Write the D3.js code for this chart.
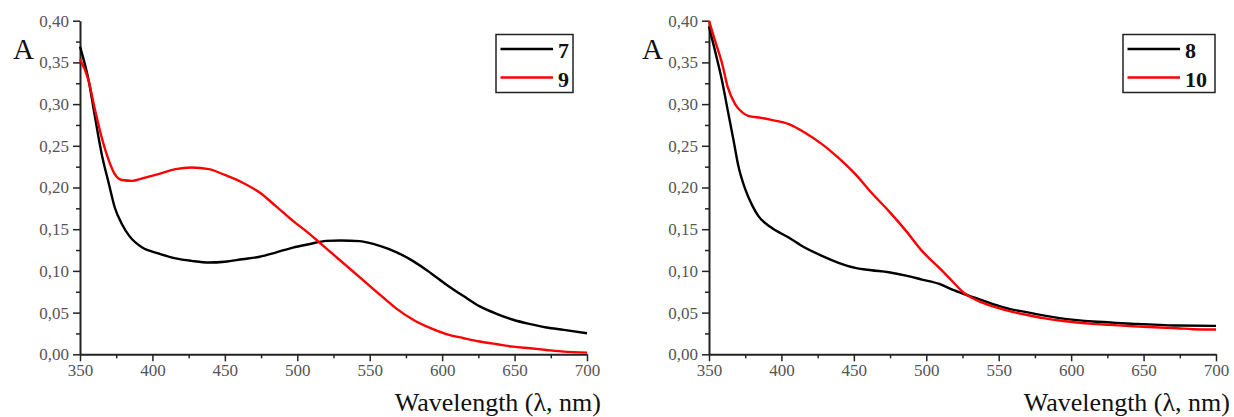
<!DOCTYPE html>
<html>
<head>
<meta charset="utf-8">
<script src="https://cdn.jsdelivr.net/npm/d3@7"></script>
<style>
  html, body { margin: 0; padding: 0; background: #fff; }
  svg { display: block; }
</style>
</head>
<body>
<svg id="chart" width="1234" height="417"></svg>
<script>
// ---- data ----
const X_TICKS = [350, 400, 450, 500, 550, 600, 650, 700];
const Y_TICKS = [0, 0.05, 0.10, 0.15, 0.20, 0.25, 0.30, 0.35, 0.40];

const LAMBDA_7 = [350, 356, 360, 365, 370, 374, 379, 384, 393, 404, 416, 427, 439, 450, 462, 474, 485, 497, 508, 520, 530, 543, 557, 569, 580, 592, 603, 615, 626, 638, 649, 661, 672, 684, 700];
const ABS_7    = [0.369, 0.328, 0.288, 0.240, 0.204, 0.176, 0.156, 0.142, 0.128, 0.121, 0.115, 0.112, 0.110, 0.111, 0.114, 0.117, 0.122, 0.128, 0.132, 0.136, 0.1365, 0.1357, 0.130, 0.122, 0.1117, 0.0976, 0.0835, 0.0695, 0.0574, 0.0482, 0.0414, 0.0361, 0.0321, 0.0293, 0.0253];

const LAMBDA_9 = [350, 356, 360, 365, 370, 374, 379, 386, 393, 404, 416, 427, 439, 450, 462, 474, 485, 497, 508, 516, 526, 534, 545, 557, 568, 580, 592, 603, 615, 626, 638, 649, 661, 672, 684, 700];
const ABS_9    = [0.354, 0.328, 0.296, 0.260, 0.232, 0.216, 0.209, 0.208, 0.211, 0.216, 0.222, 0.224, 0.222, 0.215, 0.206, 0.194, 0.178, 0.160, 0.145, 0.133, 0.118, 0.106, 0.0896, 0.0715, 0.0554, 0.0414, 0.0313, 0.0241, 0.0193, 0.0153, 0.0120, 0.0092, 0.0072, 0.0052, 0.0032, 0.0020];

const LAMBDA_8 = [350, 354, 359, 363, 367, 370, 375, 380, 384, 393, 405, 416, 428, 439, 451, 462, 474, 486, 497, 509, 518, 526, 534, 546, 558, 569, 581, 592, 604, 615, 627, 638, 650, 661, 673, 700];
const ABS_8    = [0.393, 0.365, 0.328, 0.292, 0.256, 0.228, 0.198, 0.178, 0.166, 0.152, 0.140, 0.128, 0.118, 0.110, 0.1036, 0.1008, 0.0984, 0.0944, 0.0896, 0.0843, 0.0775, 0.0723, 0.0675, 0.0602, 0.0542, 0.0506, 0.0466, 0.0434, 0.041, 0.0394, 0.0382, 0.037, 0.0361, 0.0353, 0.0345, 0.0341];

const LAMBDA_10 = [350, 354, 359, 363, 368, 373, 377, 386, 393, 405, 416, 428, 439, 451, 462, 474, 486, 497, 509, 518, 526, 534, 546, 558, 569, 581, 592, 604, 615, 627, 638, 650, 661, 673, 684, 700];
const ABS_10    = [0.400, 0.377, 0.349, 0.320, 0.300, 0.290, 0.286, 0.2835, 0.281, 0.276, 0.266, 0.252, 0.236, 0.216, 0.194, 0.172, 0.148, 0.124, 0.1036, 0.0876, 0.0735, 0.0655, 0.0574, 0.0514, 0.0474, 0.0434, 0.0406, 0.0382, 0.0365, 0.0353, 0.0341, 0.0329, 0.0321, 0.0313, 0.0301, 0.0297];

const PANELS = [
    { left: 80,  legendX: 496,  series: [["7", LAMBDA_7, ABS_7, "#000"], ["9", LAMBDA_9, ABS_9, "#ff0000"]] },
    { left: 709, legendX: 1123, series: [["8", LAMBDA_8, ABS_8, "#000"], ["10", LAMBDA_10, ABS_10, "#ff0000"]] }
];

const SERIF = "'Liberation Serif', 'Times New Roman', serif";
const commaFmt = d3.formatLocale({ decimal: ",", thousands: " ", grouping: [3], currency: ["", ""] }).format(".2f");

const svg = d3.select("#chart");
const plotW = 507, plotTop = 20.7, plotBottom = 354.3;

PANELS.forEach(p => drawPanel(p));

function drawPanel(p) {
    const g = svg.append("g").attr("transform", `translate(${p.left},0)`);

    const x = d3.scaleLinear().domain([350, 700]).range([0, plotW]);
    const y = d3.scaleLinear().domain([0, 0.40]).range([plotBottom, plotTop]);

    // minor ticks
    g.append("g")
        .attr("transform", `translate(0,${plotBottom})`)
        .call(d3.axisBottom(x).tickValues(d3.range(375, 700, 50)).tickSize(4).tickFormat("").tickSizeOuter(0))
        .call(a => a.select(".domain").remove())
        .selectAll("line").attr("stroke", "#222").attr("stroke-width", 1.5);
    g.append("g")
        .call(d3.axisLeft(y).tickValues(d3.range(0.025, 0.40, 0.05)).tickSize(4).tickFormat("").tickSizeOuter(0))
        .call(a => a.select(".domain").remove())
        .selectAll("line").attr("stroke", "#222").attr("stroke-width", 1.5);

    // major axes
    const xa = g.append("g")
        .attr("transform", `translate(0,${plotBottom})`)
        .call(d3.axisBottom(x).tickValues(X_TICKS).tickSize(7).tickPadding(3).tickSizeOuter(0));
    const ya = g.append("g")
        .call(d3.axisLeft(y).tickValues(Y_TICKS).tickSize(7).tickPadding(4).tickSizeOuter(0).tickFormat(commaFmt));

    [xa, ya].forEach(a => {
        a.select(".domain").attr("stroke", "#222").attr("stroke-width", 2);
        a.selectAll(".tick line").attr("stroke", "#222").attr("stroke-width", 1.5);
        a.selectAll("text").attr("fill", "#555").style("font", `17px ${SERIF}`);
    });

    // curves
    const line = d3.line()
        .x(d => x(d[0]))
        .y(d => y(d[1]))
        .curve(d3.curveMonotoneX);

    p.series.forEach(([name, lam, abs, col]) => {
        g.append("path")
            .datum(d3.zip(lam, abs))
            .attr("fill", "none")
            .attr("stroke", col)
            .attr("stroke-width", 2.4)
            .attr("stroke-linejoin", "round")
            .attr("d", line);
    });

    // axis titles
    svg.append("text")
        .attr("x", p.left - 67).attr("y", 59)
        .style("font", `29px ${SERIF}`).attr("fill", "#111")
        .text("A");
    svg.append("text")
        .attr("x", p.left + plotW + 14).attr("y", 411)
        .attr("text-anchor", "end")
        .style("font", `26px ${SERIF}`).attr("fill", "#111")
        .text("Wavelength (λ, nm)");

    // legend
    const lg = svg.append("g").attr("transform", `translate(${p.legendX},34.5)`);
    const boxW = p.series[1][0].length > 1 ? 92 : 77;
    lg.append("rect")
        .attr("width", boxW).attr("height", 58)
        .attr("fill", "#fff").attr("stroke", "#222").attr("stroke-width", 1.5);
    p.series.forEach(([name, , , col], i) => {
        const row = lg.append("g").attr("transform", `translate(0,${14.5 + i * 28.5})`);
        row.append("line").attr("x1", 4.5).attr("x2", 57).attr("stroke", col).attr("stroke-width", 2.4);
        row.append("text")
            .attr("x", 62).attr("y", 9)
            .style("font", `bold 22px ${SERIF}`).attr("fill", "#111")
            .text(name);
    });
}
</script>
</body>
</html>
